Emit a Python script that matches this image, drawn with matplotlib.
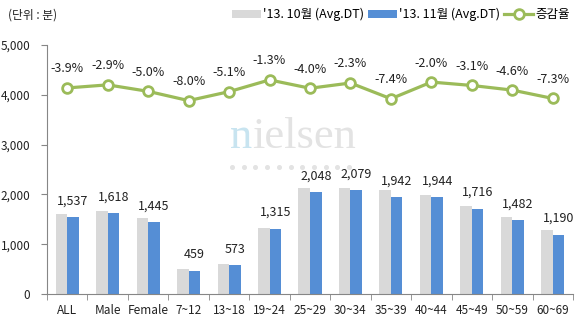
import matplotlib
matplotlib.use("Agg")
import matplotlib.pyplot as plt
import numpy as np

plt.rcParams['font.family'] = ['Noto Sans CJK KR', 'DejaVu Sans']

groups = ["ALL", "Male", "Female", "7~12", "13~18", "19~24", "25~29",
          "30~34", "35~39", "40~44", "45~49", "50~59", "60~69"]
oct_dt = [1599, 1666, 1521, 499, 604, 1332, 2133, 2128, 2097, 1984, 1771, 1553, 1284]
nov_dt = [1537, 1618, 1445, 459, 573, 1315, 2048, 2079, 1942, 1944, 1716, 1482, 1190]
change = [-3.9, -2.9, -5.0, -8.0, -5.1, -1.3, -4.0, -2.3, -7.4, -2.0, -3.1, -4.6, -7.3]

gray = "#D9D9D9"
blue = "#558ED5"
green = "#9BBB59"
axis_col = "#868686"

fig = plt.figure(figsize=(5.78, 3.26), dpi=100)
ax = fig.add_axes([47/578, 1-294/326, 526/578, 249/326])
x = np.arange(len(groups))
w = 0.285

b1 = ax.bar(x - w/2, oct_dt, w, color=gray, label="'13. 10월 (Avg.DT)", zorder=2)
b2 = ax.bar(x + w/2, nov_dt, w, color=blue, label="'13. 11월 (Avg.DT)", zorder=2)

for xi, v in zip(x, nov_dt):
    ax.annotate(f"{v:,}", (xi + w/2, v), xytext=(0, 7), textcoords="offset points",
                ha="center", va="bottom", fontsize=9, color="#222222")

ax.set_xlim(-0.5, len(groups) - 0.5)
ax.set_ylim(0, 5000)
yt = [0, 1000, 2000, 3000, 4000, 5000]
ax.set_yticks(yt)
ax.set_yticklabels([f"{t:,}" for t in yt])
ax.set_xticks(x)
ax.set_xticklabels(groups)
ax.set_xticks(np.arange(-0.5, len(groups)), minor=True)
ax.tick_params(axis="x", which="major", length=0, pad=7, labelsize=8.5, colors="#222222")
ax.tick_params(axis="x", which="minor", length=4, color=axis_col)
ax.tick_params(axis="y", length=4, color=axis_col, labelsize=8.5, labelcolor="#222222", pad=8)
for s in ["top", "right"]:
    ax.spines[s].set_visible(False)
for s in ["left", "bottom"]:
    ax.spines[s].set_color(axis_col)

# line on hidden secondary axis
ax2 = ax.twinx()
ax2.set_ylim(-70.6, 10.0)
ax2.axis("off")
ln, = ax2.plot(x, change, color=green, lw=2.3, marker="o", ms=7, mfc="white",
               mec=green, mew=2, label="증감율", zorder=3)
for xi, v in zip(x, change):
    ax2.annotate(f"{v:.1f}%", (xi, v), xytext=(0, 9), textcoords="offset points",
                 ha="center", va="bottom", fontsize=9, color="#222222")

# watermark
fig.text(252/578, 1-148/326, "n", fontsize=32, family="Liberation Serif",
         color="#C8E4F0", ha="right", va="baseline")
fig.text(252/578, 1-148/326, "ielsen", fontsize=32, family="Liberation Serif",
         color="#E3E3E3", ha="left", va="baseline")
dot_x = 232 + 11.7 * np.arange(11)
fig.add_artist(plt.Line2D(dot_x / 578, np.full(dot_x.size, 1 - 167/326), ls="none",
                          marker="o", ms=2.6, color="#E3E3E3", transform=fig.transFigure))

fig.text(8/578, 1-15/326, "(단위 : 분)", fontsize=8.5, color="#222222", va="center")

fig.legend(handles=[b1, b2, ln], loc="upper right", bbox_to_anchor=(1.0, 1.0),
           ncol=3, frameon=False, fontsize=9, handlelength=2.3, handleheight=0.6,
           columnspacing=0.3, handletextpad=0.2, borderaxespad=0.25)

fig.savefig("out.png", dpi=100)
